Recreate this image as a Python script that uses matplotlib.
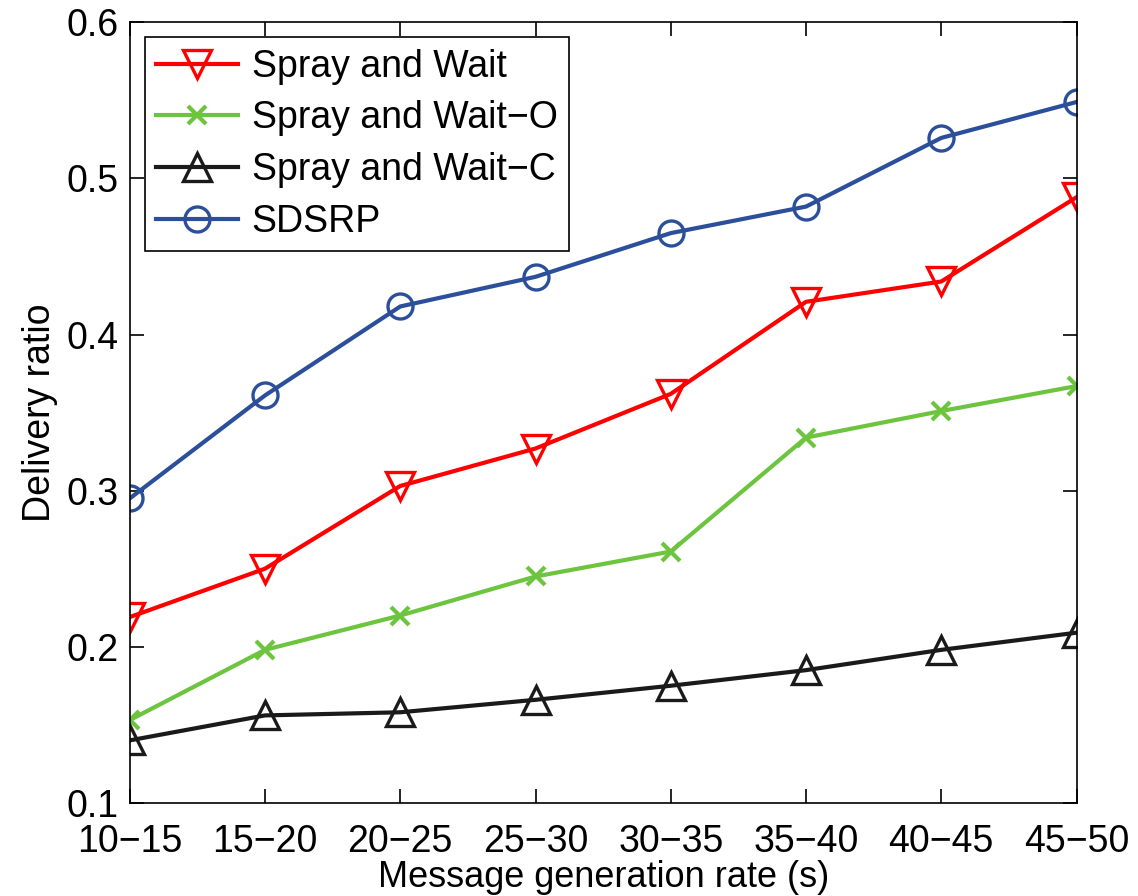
import numpy as np
import matplotlib.pyplot as plt

plt.rcParams['font.family'] = ['Liberation Sans', 'DejaVu Sans']

# message generation rate intervals
rates = ['10\u221215', '15\u221220', '20\u221225', '25\u221230',
         '30\u221235', '35\u221240', '40\u221245', '45\u221250']

spray_wait = [0.219, 0.250, 0.303, 0.327, 0.362, 0.421, 0.434, 0.488]
spray_wait_o = [0.153, 0.198, 0.220, 0.245, 0.261, 0.334, 0.351, 0.367]
spray_wait_c = [0.140, 0.156, 0.158, 0.166, 0.175, 0.185, 0.198, 0.209]
sdsrp = [0.295, 0.361, 0.418, 0.437, 0.465, 0.482, 0.526, 0.549]

x = np.arange(len(rates))

fig = plt.figure(figsize=(11.38, 8.96), dpi=100)
ax = fig.add_axes([0.114, 0.104, 0.832, 0.871])

lw = 3.0
ax.plot(x, spray_wait, color='#ff0000', lw=lw, marker='v', ms=20,
        mfc='none', mew=2.4, label='Spray and Wait')
ax.plot(x, spray_wait_o, color='#6cc43f', lw=lw, marker='x', ms=13,
        mew=3, label='Spray and Wait\u2212O')
ax.plot(x, spray_wait_c, color='#1a1a1a', lw=lw, marker='^', ms=20,
        mfc='none', mew=2.4, label='Spray and Wait\u2212C')
ax.plot(x, sdsrp, color='#2c4f9c', lw=lw, marker='o', ms=18,
        mfc='none', mew=2.4, label='SDSRP')

ax.set_xlim(0, len(rates) - 1)
ax.set_ylim(0.1, 0.6)
ax.set_xticks(x)
ax.set_xticklabels(rates)
ax.set_yticks([0.1, 0.2, 0.3, 0.4, 0.5, 0.6])
ax.set_yticklabels(['0.1', '0.2', '0.3', '0.4', '0.5', '0.6'])
ax.tick_params(direction='in', top=True, right=True, length=10, width=1.2,
               labelsize=27)
ax.tick_params(axis='x', pad=15)
ax.tick_params(axis='y', pad=8)
for s in ax.spines.values():
    s.set_linewidth(1.2)

ax.set_xlabel('Message generation rate (s)', fontsize=26, labelpad=0)
ax.set_ylabel('Delivery ratio', fontsize=27, labelpad=6)

leg = ax.legend(loc='upper left', fontsize=27, frameon=True, fancybox=False,
                edgecolor='black', framealpha=1, handlelength=2.2,
                borderpad=0.3, labelspacing=0.42, handletextpad=0.35,
                borderaxespad=0.4)
leg.get_frame().set_linewidth(1.2)

fig.savefig('out.png', dpi=100)
